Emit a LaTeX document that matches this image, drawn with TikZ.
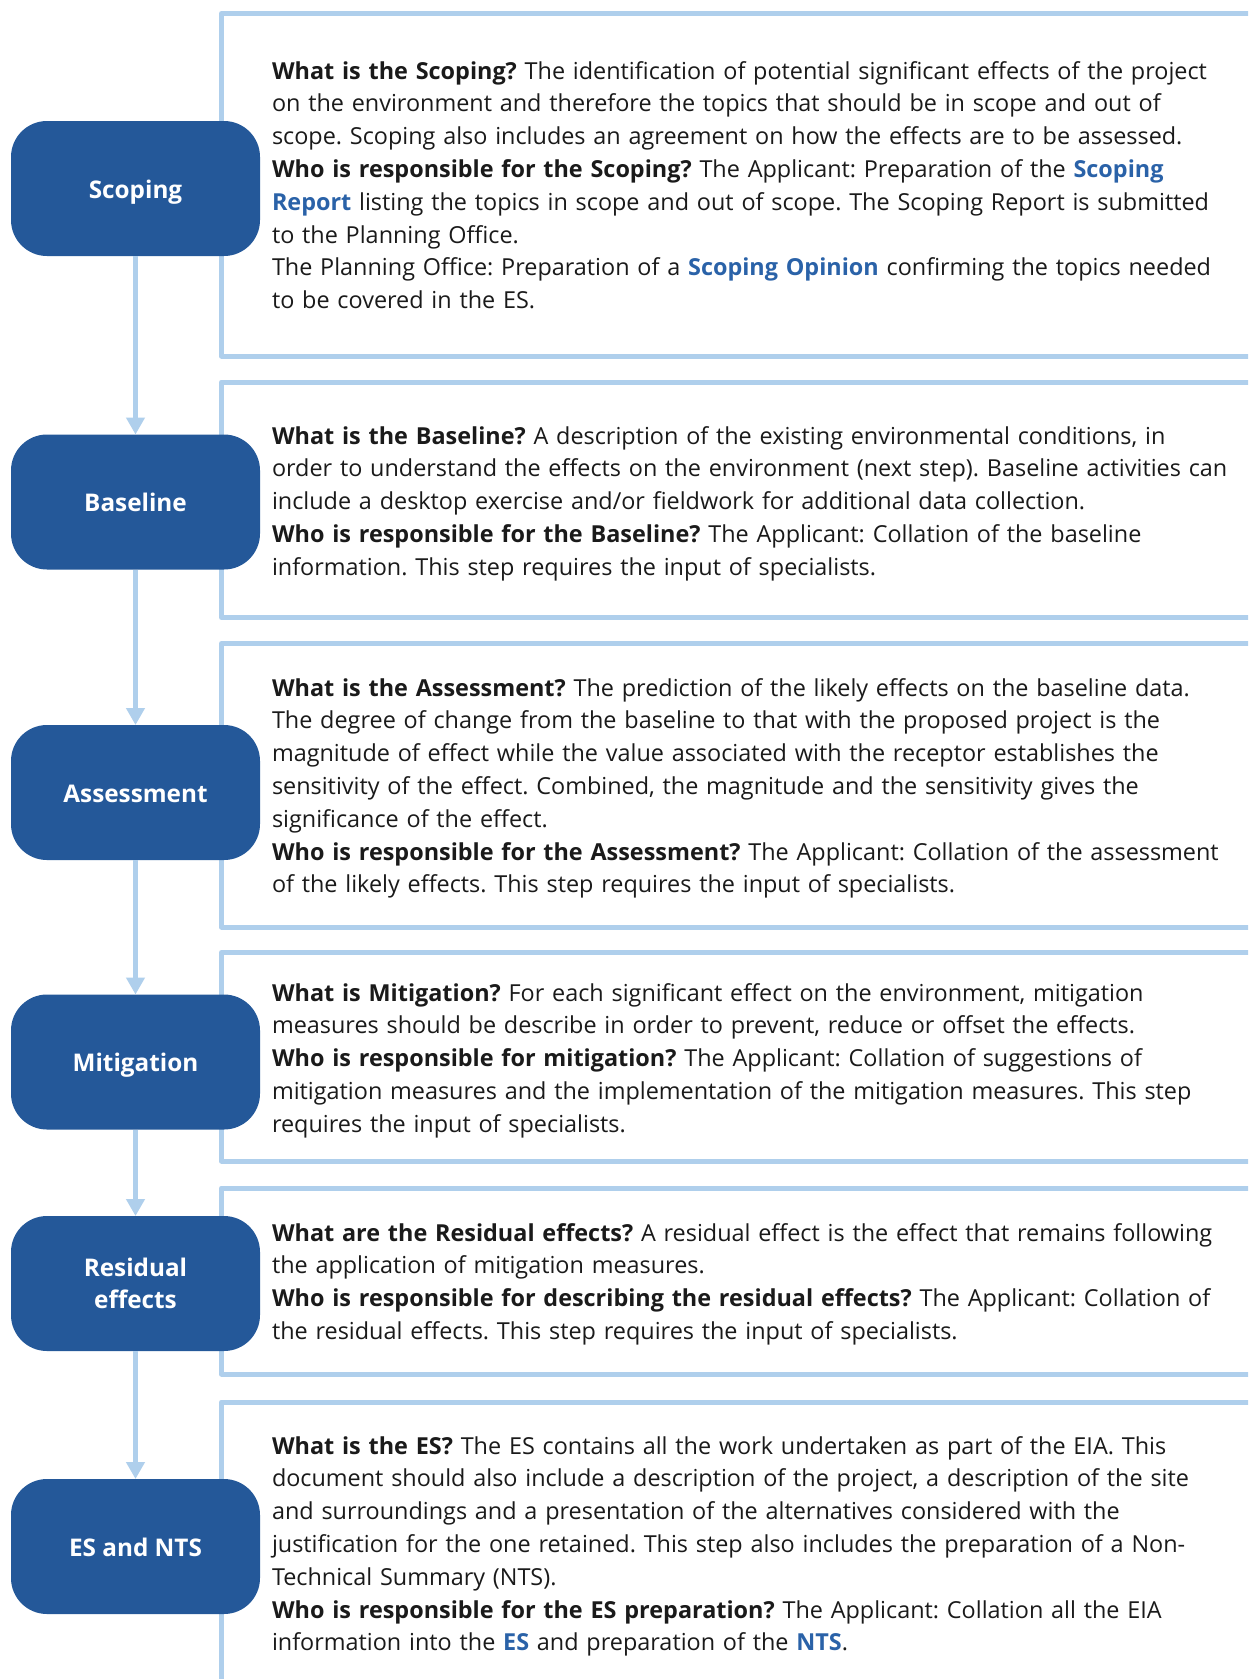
\documentclass[tikz,border=0pt]{standalone}
\usepackage{fontspec}
\setmainfont{Open Sans}
\usetikzlibrary{arrows.meta}
\definecolor{nodeblue}{HTML}{245899}
\definecolor{lineblue}{HTML}{AFCFEC}
\definecolor{linkblue}{HTML}{2A62A8}
\definecolor{txt}{HTML}{1A1A1A}
\newcommand{\lnk}[1]{\textcolor{linkblue}{\textbf{#1}}}
\frenchspacing
\begin{document}
\begin{tikzpicture}[x=1pt,y=-1pt,
  stepnode/.style={fill=nodeblue, text=white, font=\fontsize{24.3}{32}\selectfont\bfseries,
    rounded corners=36pt, minimum width=249pt, minimum height=135pt, inner sep=0pt,
    outer sep=0pt, align=center},
  oneline/.style={text height=19pt, text depth=0pt},
  frame/.style={draw=lineblue, line width=5pt, line join=round},
  desc/.style={anchor=north west, inner sep=0pt, outer sep=0pt, text width=990pt,
    align=left, font=\frenchspacing\fontsize{23.4}{32.8}\selectfont, text=txt},
  flow/.style={draw=lineblue, line width=5pt, -{Triangle[width=18pt,length=17pt]}}]
\useasboundingbox (0,0) rectangle (1248,1679);
\clip (0,0) rectangle (1248,1679);
\fill[white] (0,0) rectangle (1248,1679);

% frames
\draw[frame] (1270,13.5) -- (221.5,13.5) -- (221.5,356) -- (1270,356);
\draw[frame] (1270,382) -- (221.5,382) -- (221.5,617.5) -- (1270,617.5);
\draw[frame] (1270,643.5) -- (221.5,643.5) -- (221.5,927) -- (1270,927);
\draw[frame] (1270,952.5) -- (221.5,952.5) -- (221.5,1161) -- (1270,1161);
\draw[frame] (1270,1188) -- (221.5,1188) -- (221.5,1374) -- (1270,1374);
\draw[frame] (1270,1402) -- (221.5,1402) -- (221.5,1700);

% step nodes
\node[stepnode,oneline] (scoping) at (135.5,188.5) {Scoping};
\node[stepnode,oneline] (baseline) at (135.5,502) {Baseline};
\node[stepnode,oneline] (assessment) at (135.5,792.5) {Assessment};
\node[stepnode,oneline] (mitigation) at (135.5,1062) {Mitigation};
\node[stepnode] (residual) at (135.5,1283.5) {Residual\\effects};
\node[stepnode,oneline] (esnts) at (135.5,1546.5) {ES and NTS};

% connectors
\draw[flow] (scoping) -- (baseline);
\draw[flow] (baseline) -- (assessment);
\draw[flow] (assessment) -- (mitigation);
\draw[flow] (mitigation) -- (residual);
\draw[flow] (residual) -- (esnts);

% descriptions
\node[desc] (d1) at (272,56.04) {\strut\textbf{What is the Scoping?} The identification of potential significant effects of the project\\
on the environment and therefore the topics that should be in scope and out of\\
scope. Scoping also includes an agreement on how the effects are to be assessed.\\
\textbf{Who is responsible for the Scoping?} The Applicant: Preparation of the \lnk{Scoping}\\
\lnk{Report} listing the topics in scope and out of scope. The Scoping Report is submitted\\
to the Planning Office.\\
The Planning Office: Preparation of a \lnk{Scoping Opinion} confirming the topics needed\\
to be covered in the ES.};

\node[desc] (d2) at (272,421.04) {\strut\textbf{What is the Baseline?} A description of the existing environmental conditions, in\\
order to understand the effects on the environment (next step). Baseline activities can\\
include a desktop exercise and/or fieldwork for additional data collection.\\
\textbf{Who is responsible for the Baseline?} The Applicant: Collation of the baseline\\
information. This step requires the input of specialists.};

\node[desc] (d3) at (272,673.04) {\strut\textbf{What is the Assessment?} The prediction of the likely effects on the baseline data.\\
The degree of change from the baseline to that with the proposed project is the\\
magnitude of effect while the value associated with the receptor establishes the\\
sensitivity of the effect. Combined, the magnitude and the sensitivity gives the\\
significance of the effect.\\
\textbf{Who is responsible for the Assessment?} The Applicant: Collation of the assessment\\
of the likely effects. This step requires the input of specialists.};

\node[desc] (d4) at (272,978.04) {\strut\textbf{What is Mitigation?} For each significant effect on the environment, mitigation\\
measures should be describe in order to prevent, reduce or offset the effects.\\
\textbf{Who is responsible for mitigation?} The Applicant: Collation of suggestions of\\
mitigation measures and the implementation of the mitigation measures. This step\\
requires the input of specialists.};

\node[desc] (d5) at (272,1218.04) {\strut\textbf{What are the Residual effects?} A residual effect is the effect that remains following\\
the application of mitigation measures.\\
\textbf{Who is responsible for describing the residual effects?} The Applicant: Collation of\\
the residual effects. This step requires the input of specialists.};

\node[desc] (d6) at (272,1431.04) {\strut\textbf{What is the ES?} The ES contains all the work undertaken as part of the EIA. This\\
document should also include a description of the project, a description of the site\\
and surroundings and a presentation of the alternatives considered with the\\
justification for the one retained. This step also includes the preparation of a Non-\\
Technical Summary (NTS).\\
\textbf{Who is responsible for the ES preparation?} The Applicant: Collation all the EIA\\
information into the \lnk{ES} and preparation of the \lnk{NTS}.};
\end{tikzpicture}
\end{document}
